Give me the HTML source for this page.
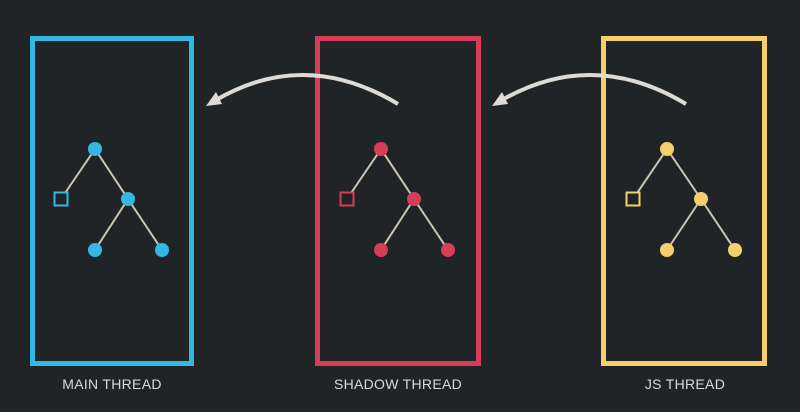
<!DOCTYPE html>
<html><head><meta charset="utf-8"><style>
html,body{margin:0;padding:0;background:#212427;width:800px;height:412px;overflow:hidden}
svg{display:block}
text{font-family:"Liberation Sans",sans-serif;font-size:14px;fill:#dcd9d4;letter-spacing:0.3px}
</style></head><body>
<svg width="800" height="412">
<g>
<rect x="32.5" y="38.5" width="159" height="325" fill="none" stroke="#33b8e3" stroke-width="5"/>
<g stroke="#cfc6b6" stroke-width="2"><line x1="95" y1="149" x2="61" y2="199"/><line x1="95" y1="149" x2="128" y2="199"/><line x1="128" y1="199" x2="95" y2="250"/><line x1="128" y1="199" x2="162" y2="250"/></g>
<rect x="54.5" y="192.5" width="13" height="13" fill="#212427" stroke="#33b8e3" stroke-width="2"/>
<g fill="#33b8e3"><circle cx="95" cy="149" r="7"/><circle cx="128" cy="199" r="7"/><circle cx="95" cy="250" r="7"/><circle cx="162" cy="250" r="7"/></g>
<text x="112" y="389" text-anchor="middle">MAIN THREAD</text>
</g>
<g>
<rect x="317.5" y="38.5" width="161" height="325" fill="none" stroke="#d63e58" stroke-width="5"/>
<g stroke="#cfc6b6" stroke-width="2"><line x1="381" y1="149" x2="347" y2="199"/><line x1="381" y1="149" x2="414" y2="199"/><line x1="414" y1="199" x2="381" y2="250"/><line x1="414" y1="199" x2="448" y2="250"/></g>
<rect x="340.5" y="192.5" width="13" height="13" fill="#212427" stroke="#d63e58" stroke-width="2"/>
<g fill="#d63e58"><circle cx="381" cy="149" r="7"/><circle cx="414" cy="199" r="7"/><circle cx="381" cy="250" r="7"/><circle cx="448" cy="250" r="7"/></g>
<text x="398" y="389" text-anchor="middle">SHADOW THREAD</text>
</g>
<g>
<rect x="603.5" y="38.5" width="161" height="325" fill="none" stroke="#f4d06c" stroke-width="5"/>
<g stroke="#cfc6b6" stroke-width="2"><line x1="667" y1="149" x2="633" y2="199"/><line x1="667" y1="149" x2="701" y2="199"/><line x1="701" y1="199" x2="667" y2="250"/><line x1="701" y1="199" x2="735" y2="250"/></g>
<rect x="626.5" y="192.5" width="13" height="13" fill="#212427" stroke="#f4d06c" stroke-width="2"/>
<g fill="#f4d06c"><circle cx="667" cy="149" r="7"/><circle cx="701" cy="199" r="7"/><circle cx="667" cy="250" r="7"/><circle cx="735" cy="250" r="7"/></g>
<text x="685" y="389" text-anchor="middle">JS THREAD</text>
</g>
<g fill="none" stroke="#dedbd6" stroke-width="4">
<path d="M398,104 Q305,48 216,100"/>
<polygon points="206,106 216,92 222,104" fill="#dedbd6" stroke="none"/>
</g>
<g fill="none" stroke="#dedbd6" stroke-width="4">
<path d="M686,104 Q593,48 502,100"/>
<polygon points="492,106 502,92 508,104" fill="#dedbd6" stroke="none"/>
</g>
</svg>
</body></html>
